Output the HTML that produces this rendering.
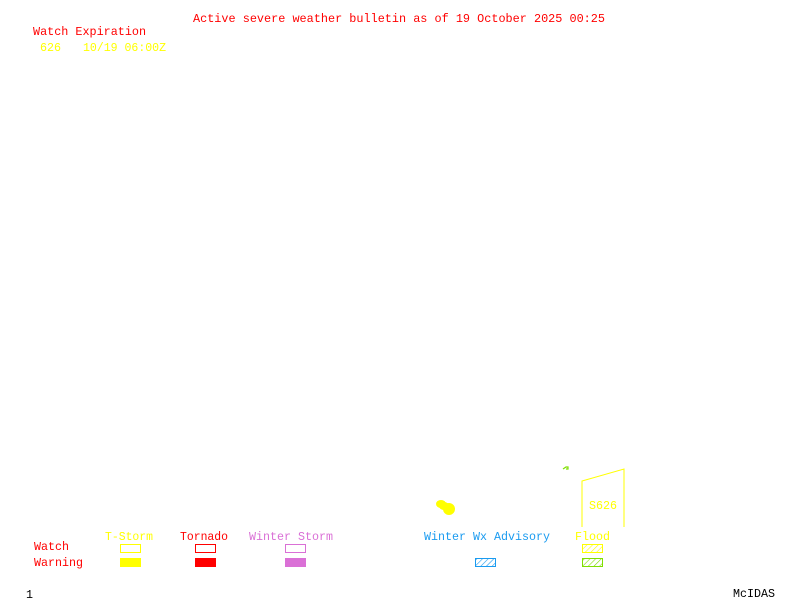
<!DOCTYPE html>
<html><head><meta charset="utf-8"><style>
html,body{margin:0;padding:0;background:#fff;}
svg{display:block;}
text{font-family:"Liberation Mono",monospace;font-size:12px;}
</style></head><body>
<svg width="800" height="600" xmlns="http://www.w3.org/2000/svg">
<defs>
<pattern id="hb" width="4" height="4" patternUnits="userSpaceOnUse" patternTransform="rotate(45)"><line x1="0" y1="0" x2="0" y2="4" stroke="#1a9bf0" stroke-width="1.2"/></pattern>
<pattern id="hy" width="4" height="4" patternUnits="userSpaceOnUse" patternTransform="rotate(45)"><line x1="0" y1="0" x2="0" y2="4" stroke="#ffff00" stroke-width="1.2"/></pattern>
<pattern id="hg" width="4" height="4" patternUnits="userSpaceOnUse" patternTransform="rotate(45)"><line x1="0" y1="0" x2="0" y2="4" stroke="#7fdf00" stroke-width="1.2"/></pattern>
</defs>
<rect width="800" height="600" fill="#fff"/>
<text x="193" y="22" fill="#ff0000" textLength="412" lengthAdjust="spacingAndGlyphs">Active severe weather bulletin as of 19 October 2025 00:25</text>
<text x="33" y="35" fill="#ff0000" textLength="113" lengthAdjust="spacingAndGlyphs">Watch Expiration</text>
<text x="40" y="51" fill="#ffff00" textLength="21" lengthAdjust="spacingAndGlyphs">626</text>
<text x="83" y="51" fill="#ffff00" textLength="83" lengthAdjust="spacingAndGlyphs">10/19 06:00Z</text>

<!-- map features -->
<ellipse cx="441" cy="504" rx="5" ry="4" fill="#ffff00"/>
<ellipse cx="449" cy="509" rx="6" ry="6" fill="#ffff00"/>
<ellipse cx="444" cy="506" rx="5" ry="4" fill="#ffff00"/>
<path d="M563,469 L566,467 L568,467 L568,469 L566,469" stroke="#7fdf00" stroke-width="1.2" fill="none"/>
<polyline points="582,527 582,481 624,469 624,527" stroke="#ffff00" stroke-width="1" fill="none"/>
<text x="589" y="509" fill="#ffff00" textLength="28" lengthAdjust="spacingAndGlyphs">S626</text>

<!-- legend -->
<text x="105" y="540" fill="#ffff00" textLength="48" lengthAdjust="spacingAndGlyphs">T-Storm</text>
<text x="180" y="540" fill="#ff0000" textLength="48" lengthAdjust="spacingAndGlyphs">Tornado</text>
<text x="249" y="540" fill="#da70d6" textLength="84" lengthAdjust="spacingAndGlyphs">Winter Storm</text>
<text x="424" y="540" fill="#1a9bf0" textLength="126" lengthAdjust="spacingAndGlyphs">Winter Wx Advisory</text>
<text x="575" y="540" fill="#ffff00" textLength="35" lengthAdjust="spacingAndGlyphs">Flood</text>
<text x="34" y="550" fill="#ff0000" textLength="35" lengthAdjust="spacingAndGlyphs">Watch</text>
<text x="34" y="566" fill="#ff0000" textLength="49" lengthAdjust="spacingAndGlyphs">Warning</text>

<rect x="120.5" y="544.5" width="20" height="8" fill="none" stroke="#ffff00"/>
<rect x="195.5" y="544.5" width="20" height="8" fill="none" stroke="#ff0000"/>
<rect x="285.5" y="544.5" width="20" height="8" fill="none" stroke="#da70d6"/>
<rect x="582.5" y="544.5" width="20" height="8" fill="url(#hy)" stroke="#ffff00"/>

<rect x="120" y="558" width="21" height="9" fill="#ffff00"/>
<rect x="195" y="558" width="21" height="9" fill="#ff0000"/>
<rect x="285" y="558" width="21" height="9" fill="#da70d6"/>
<rect x="475.5" y="558.5" width="20" height="8" fill="url(#hb)" stroke="#1a9bf0"/>
<rect x="582.5" y="558.5" width="20" height="8" fill="url(#hg)" stroke="#7fdf00"/>

<text x="26" y="598" fill="#000" textLength="7" lengthAdjust="spacingAndGlyphs">1</text>
<text x="733" y="597" fill="#000" textLength="42" lengthAdjust="spacingAndGlyphs">McIDAS</text>
</svg>
</body></html>
